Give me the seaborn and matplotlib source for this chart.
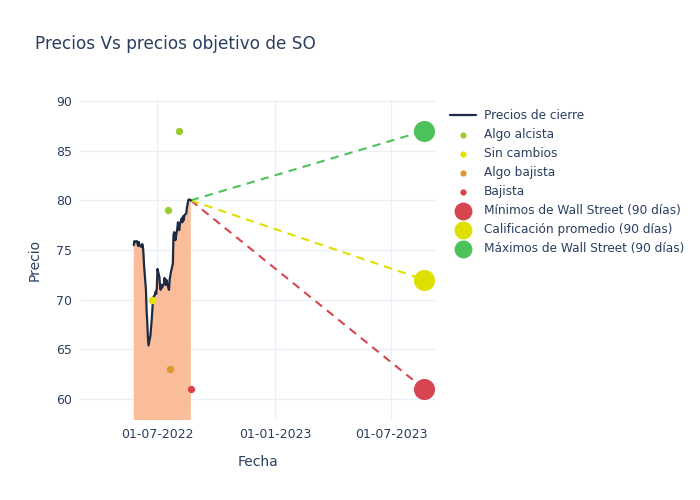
import matplotlib
matplotlib.use("Agg")
import matplotlib.pyplot as plt
import matplotlib.dates as mdates
import seaborn as sns
import pandas as pd
import numpy as np

# ---- data ----
price_start = "2022-05-25"
price_end = "2022-08-22"
closes = [75.5, 75.9, 75.8, 75.9, 75.6, 75.4, 75.8, 75.5, 75.3, 75.6,
          75.5, 74.8, 73.5, 71.0, 69.0, 67.8, 66.3, 65.4, 66.4, 67.2,
          68.0, 69.0, 70.2, 70.5, 70.8, 70.6, 71.2, 73.1, 72.3, 71.4,
          71.0, 71.5, 71.2, 71.6, 72.2, 71.8, 71.5, 72.0, 71.2, 71.0,
          72.0, 72.4, 72.8, 73.6, 76.5, 76.8, 76.7, 76.0, 77.2, 77.8,
          77.3, 77.0, 77.6, 78.2, 77.8, 78.4, 78.0, 78.5, 78.7, 79.3,
          79.6, 80.0, 80.1, 80.0]

analyst_labels = ["Algo alcista", "Algo alcista", "Sin cambios", "Algo bajista", "Bajista"]
analyst_dates = ["2022-07-18", "2022-08-03", "2022-06-23", "2022-07-21", "2022-08-22"]
analyst_prices = [79, 87, 70, 63, 61]

target_date = "2023-08-22"
target_labels = ["Mínimos de Wall Street (90 días)", "Calificación promedio (90 días)",
                 "Máximos de Wall Street (90 días)"]
target_values = [61, 72, 87]

x_ticks = ["2022-07-01", "2023-01-01", "2023-07-01"]
y_ticks = [60, 65, 70, 75, 80, 85, 90]

# ---- styling ----
TXT = "#2a3f5f"
GRID = "#EBF0F8"
analyst_colors = {"Algo alcista": "#9ACD32", "Sin cambios": "#E3E300",
                  "Algo bajista": "#DC9A2A", "Bajista": "#D9434D"}
target_colors = ["#D64550", "#DFE000", "#4CC25A"]

sns.set_theme(style="white")
plt.rcParams["font.family"] = ["DejaVu Sans"]

fig = plt.figure(figsize=(7, 5), dpi=100)
ax = fig.add_axes([80/700, 80/500, 356/700, 320/500])

dates = pd.bdate_range(price_start, price_end)
df = pd.DataFrame({"Fecha": dates, "Precio": closes})

ax.fill_between(df["Fecha"], df["Precio"], 0, color="#FABD99", lw=0, zorder=1)
sns.lineplot(data=df, x="Fecha", y="Precio", ax=ax, color="#1E2A44", lw=1.6,
             label="Precios de cierre", zorder=3)

last_date = df["Fecha"].iloc[-1]
last_close = df["Precio"].iloc[-1]
tdate = pd.Timestamp(target_date)
for val, col in zip(target_values, target_colors):
    ax.plot([last_date, tdate], [last_close, val], ls=(0, (4, 3)), color=col, lw=1.5, zorder=2)

adf = pd.DataFrame({"Fecha": pd.to_datetime(analyst_dates), "Precio": analyst_prices,
                    "Calificación": analyst_labels})
for lab in ["Algo alcista", "Sin cambios", "Algo bajista", "Bajista"]:
    sub = adf[adf["Calificación"] == lab]
    sns.scatterplot(data=sub, x="Fecha", y="Precio", ax=ax, color=analyst_colors[lab],
                    s=28, linewidth=0, label=lab, zorder=4)

tdf = pd.DataFrame({"Fecha": [tdate]*3, "Precio": target_values, "Etiqueta": target_labels})
for i, lab in enumerate(target_labels):
    sub = tdf[tdf["Etiqueta"] == lab]
    sns.scatterplot(data=sub, x="Fecha", y="Precio", ax=ax, color=target_colors[i],
                    s=230, linewidth=0, label=lab, zorder=5)

ax.set_xlim(pd.Timestamp("2022-03-02"), pd.Timestamp("2023-09-09"))
ax.set_ylim(57.9, 90.1)
ax.set_xticks(pd.to_datetime(x_ticks))
ax.xaxis.set_major_formatter(mdates.DateFormatter("%d-%m-%Y"))
ax.set_yticks(y_ticks)
ax.grid(True, color=GRID, lw=1)
ax.set_axisbelow(True)
for s in ax.spines.values():
    s.set_visible(False)
ax.tick_params(axis="both", length=0, labelsize=9, colors=TXT, pad=6)
ax.set_xlabel("Fecha", fontsize=10, color=TXT, labelpad=10)
ax.set_ylabel("Precio", fontsize=10, color=TXT, labelpad=10)

fig.text(35/700, 1 - 44/500, "Precios Vs precios objetivo de SO", fontsize=12.2,
         color=TXT, va="center", ha="left")

handles, labels = ax.get_legend_handles_labels()
leg = ax.legend(handles, labels, loc="upper left", bbox_to_anchor=(445/700, 1 - 104/500),
                bbox_transform=fig.transFigure, frameon=False, fontsize=8.7,
                labelcolor=TXT, handlelength=2.2, handletextpad=0.6,
                labelspacing=0.5, borderaxespad=0, markerscale=0.85)

fig.savefig("out.png", dpi=100, facecolor="white")
